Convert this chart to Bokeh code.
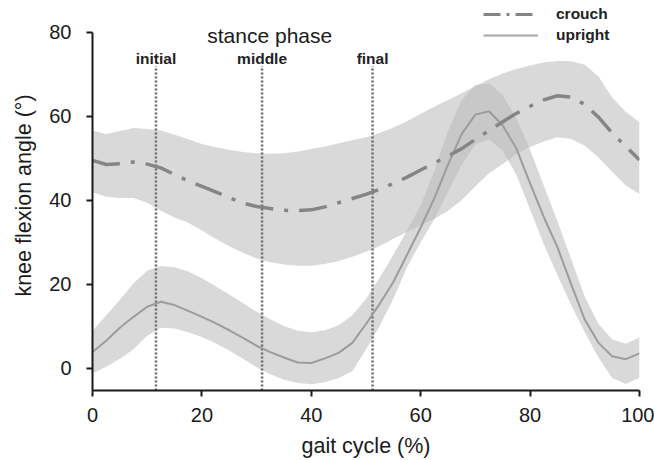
import numpy as np
from bokeh.plotting import figure
from bokeh.models import Range1d, FixedTicker, Legend, LegendItem, Label
from bokeh.core.properties import value
from bokeh.embed import file_html
from bokeh.resources import INLINE

# ---- data ----
gait = [0, 2.5, 5, 7.5, 10, 12.5, 15, 17.5, 20, 22.5, 25, 27.5, 30, 32.5, 35, 37.5,
        40, 42.5, 45, 47.5, 50, 52.5, 55, 57.5, 60, 62.5, 65, 67.5, 70, 72.5, 75,
        77.5, 80, 82.5, 85, 87.5, 90, 92.5, 95, 97.5, 100]

crouch_mean = [49.5, 48.5, 48.7, 49.1, 48.6, 47.7, 46.1, 44.6, 43.3, 42.0, 40.6, 39.3,
               38.5, 38.0, 37.6, 37.5, 37.7, 38.4, 39.4, 40.4, 41.4, 42.6, 44.0, 45.5,
               47.2, 48.9, 50.5, 52.3, 54.5, 56.6, 58.7, 60.7, 62.4, 63.9, 64.9, 64.6,
               62.8, 59.8, 56.0, 52.8, 49.6]
crouch_upper = [56.6, 55.8, 56.5, 57.2, 57.0, 56.6, 55.6, 54.5, 53.4, 52.6, 52.0, 51.5,
                51.2, 51.1, 51.2, 51.6, 52.2, 52.8, 53.6, 54.3, 55.0, 56.0, 57.3, 58.8,
                60.6, 62.3, 63.9, 65.5, 67.2, 68.8, 70.2, 71.3, 72.1, 72.8, 73.2, 73.1,
                72.3, 69.5, 64.5, 61.0, 58.6]
crouch_lower = [41.9, 40.8, 40.5, 40.5, 39.4, 37.5, 35.9, 34.6, 32.8, 30.8, 29.0, 27.5,
                26.1, 25.2, 24.7, 24.4, 24.4, 24.8, 25.5, 26.5, 27.7, 29.1, 30.8, 32.4,
                34.0, 35.6, 37.5, 40.0, 43.3, 46.4, 48.6, 51.0, 52.7, 54.0, 55.0, 54.6,
                53.0, 50.2, 46.8, 43.5, 41.5]

upright_mean = [3.8, 6.5, 9.6, 12.2, 14.6, 15.8, 15.0, 13.6, 12.2, 10.7, 9.0, 7.2,
                5.3, 3.8, 2.5, 1.3, 1.2, 2.3, 3.6, 6.0, 10.5, 15.3, 20.5, 27.0,
                33.5, 40.5, 48.5, 55.8, 60.4, 61.2, 57.8, 52.3, 44.0, 36.0, 28.8, 20.0,
                11.5, 6.0, 2.8, 2.1, 3.5]
upright_upper = [8.9, 12.5, 16.3, 20.2, 23.2, 24.3, 24.0, 23.0, 21.4, 19.5, 17.5, 15.5,
                 13.4, 11.6, 10.0, 8.9, 8.5, 9.0, 10.2, 12.6, 16.5, 21.5, 27.0, 32.8,
                 38.8, 47.0, 56.5, 63.8, 67.4, 67.9, 65.0, 59.5, 52.0, 43.5, 35.0, 26.0,
                 17.0, 10.5, 6.8, 5.8, 7.3]
upright_lower = [-1.3, 0.3, 2.2, 4.5, 7.7, 9.6, 9.4, 8.5, 7.4, 5.9, 4.2, 2.2,
                 0.2, -1.5, -2.8, -3.6, -3.9, -3.4, -2.4, -0.8, 4.5, 10.0, 16.5, 24.0,
                 30.0, 35.5, 42.0, 48.5, 53.3, 54.5, 51.8, 46.0, 37.8, 29.5, 22.2, 15.0,
                 8.5, 2.5, -2.4, -3.8, -2.3]

phase_names = ["initial", "middle", "final"]
phase_x = [11.6, 31.0, 51.2]
phase_top = 72.0
phase_label_y = 73.7

x_ticks = [0, 20, 40, 60, 80, 100]
y_ticks = [0, 20, 40, 60, 80]
series_names = ["crouch", "upright"]

# ---- figure ----
FONT = "Liberation Sans"
y_lo, y_hi = -5.36, 87.6

p = figure(width=654, height=460, output_backend="svg", toolbar_location=None,
           x_range=Range1d(0, 100), y_range=Range1d(y_lo, y_hi),
           min_border_left=92, min_border_right=15, min_border_top=0, min_border_bottom=70)
p.outline_line_color = None
p.grid.visible = False
p.background_fill_color = "white"
p.border_fill_color = "white"

BAND = "#bababa"
p.varea(x=gait, y1=crouch_lower, y2=crouch_upper, fill_color=BAND, fill_alpha=0.55)
p.varea(x=gait, y1=upright_lower, y2=upright_upper, fill_color=BAND, fill_alpha=0.55)

# stance phase markers
p.segment(x0=phase_x, y0=[y_lo] * 3, x1=phase_x, y1=[phase_top] * 3,
          line_color="#6a6a6a", line_width=2.5, line_dash=value("2 2"))
p.text(x=phase_x, y=[phase_label_y] * 3, text=phase_names,
       text_font=value(FONT), text_font_style="bold", text_font_size="15.5px",
       text_align="center", text_baseline="alphabetic", text_color="#222222")

p.add_layout(Label(x=32.4, y=79.2, text="stance phase", text_align="center",
                   text_baseline="alphabetic", text_font=FONT, text_font_size="21px",
                   text_color="#1a1a1a"))

# mean curves
p.line(gait, upright_mean, line_color="#9c9c9c", line_width=2, line_join="round")
p.line(gait, crouch_mean, line_color="#858585", line_width=3.5, line_dash="28 11 4 11")

# legend (sample glyphs only; no data drawn)
nan1 = np.full(1, np.nan)
leg_c = p.line(x=nan1, y=nan1, line_color="#858585", line_width=3, line_dash="17 6 3 6")
leg_u = p.line(x=nan1, y=nan1, line_color="#a8a8a8", line_width=2)
legend = Legend(items=[LegendItem(label=series_names[0], renderers=[leg_c]),
                       LegendItem(label=series_names[1], renderers=[leg_u])],
                location=(391, 346), glyph_width=55, glyph_height=18, label_height=18,
                spacing=3, padding=0, margin=0, label_standoff=18,
                border_line_alpha=0, background_fill_alpha=0,
                label_text_font=FONT, label_text_font_style="bold",
                label_text_font_size="15.5px", label_text_color="#222222")
p.add_layout(legend)

# axes
for ax in (p.xaxis[0], p.yaxis[0]):
    ax.axis_line_width = 2
    ax.axis_line_color = "#1a1a1a"
    ax.major_tick_line_width = 2
    ax.major_tick_line_color = "#1a1a1a"
    ax.major_tick_out = 6
    ax.major_tick_in = 0
    ax.minor_tick_line_color = None
    ax.major_label_text_font = FONT
    ax.major_label_text_font_size = "20px"
    ax.major_label_text_color = "#1a1a1a"
    ax.axis_label_text_font = FONT
    ax.axis_label_text_font_size = "21.5px"
    ax.axis_label_text_font_style = "normal"
    ax.axis_label_text_color = "#1a1a1a"

p.xaxis.ticker = FixedTicker(ticks=x_ticks)
p.yaxis.ticker = FixedTicker(ticks=y_ticks)
p.yaxis.bounds = (y_lo, 80)
p.xaxis.axis_label = "gait cycle (%)"
p.yaxis.axis_label = "knee flexion angle (°)"
p.xaxis.major_label_standoff = 11
p.xaxis.axis_label_standoff = 9
p.yaxis.major_label_standoff = 15
p.yaxis.axis_label_standoff = 10

open("out.html", "w").write(file_html(p, INLINE))
